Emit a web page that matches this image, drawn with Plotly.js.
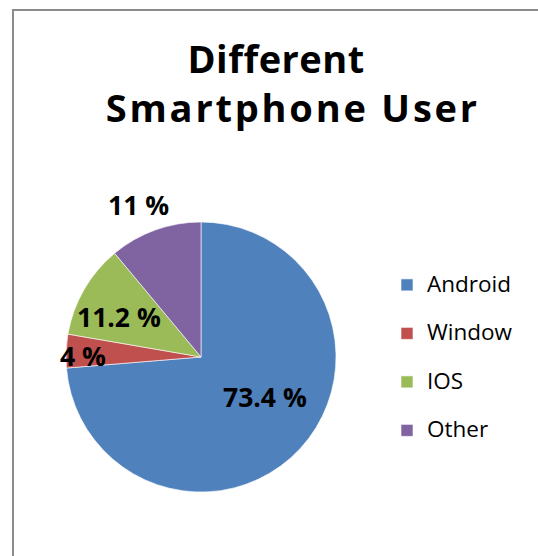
<!DOCTYPE html>
<html>
<head>
<meta charset="utf-8">
<script src="https://cdn.plot.ly/plotly-3.0.1.min.js"></script>
<style>
  html, body { margin: 0; padding: 0; background: #ffffff; }
  #chart { position: absolute; left: 0; top: 0; width: 538px; height: 556px; }
  #frame { position: absolute; left: 12px; top: 9px; width: 540px; height: 560px;
           border-left: 2px solid #8c8c8c; border-top: 2px solid #8c8c8c;
           pointer-events: none; box-sizing: border-box; }
</style>
</head>
<body>
<div id="chart"></div>
<div id="frame"></div>
<script>
// ---- data ----
const categories = ['Android', 'Window', 'IOS', 'Other'];
const shares = [73.4, 4, 11.2, 11];
const sliceColors = ['#4F81BD', '#C0504D', '#9BBB59', '#8064A2'];
const titleLines = ['Different', 'Smartphone User'];

// ---- layout helpers ----
const W = 538, H = 556;
const px = x => x / W;
const py = y => 1 - y / H;
const FONT = '"Open Sans", Lato, sans-serif';

// pie placement (centre 201,357 ; radius 135)
const cx = 201, cy = 357, r = 135;

// label anchor points (pixel), one per category
const labelPos = [[265, 397], [83, 356], [118.5, 317], [138.5, 205]];

const legendLabels = categories.map(c =>
  '<span style="font-size:22.5px">' + c + '</span><br>\u00a0');

const titleText =
  '<span style="letter-spacing:0.5px">' + titleLines[0] + '\u00a0\u00a0</span><br>' +
  '<span style="letter-spacing:2.8px">\u00a0' + titleLines[1] + '</span>';

const trace = {
  type: 'pie',
  labels: legendLabels,
  values: shares,
  sort: false,
  direction: 'clockwise',
  rotation: 0,
  textinfo: 'none',
  hoverinfo: 'skip',
  marker: { colors: sliceColors, line: { color: '#ffffff', width: 0.6 } },
  domain: { x: [px(cx - r), px(cx + r)], y: [py(cy + r), py(cy - r)] }
};

const annotations = shares.map((v, i) => ({
  xref: 'paper', yref: 'paper',
  x: px(labelPos[i][0]), y: py(labelPos[i][1]),
  xanchor: 'center', yanchor: 'middle',
  text: v + ' %',
  showarrow: false,
  font: { family: FONT, size: 26.5, color: '#000000', weight: 'bold' }
}));

const layout = {
  width: W, height: H,
  margin: { l: 0, r: 0, t: 0, b: 0 },
  paper_bgcolor: '#ffffff',
  plot_bgcolor: '#ffffff',
  title: {
    text: titleText,
    font: { family: FONT, size: 38, color: '#000000', weight: 'bold' },
    xref: 'paper', yref: 'paper',
    x: px(286.5), xanchor: 'center',
    y: py(72.5), yanchor: 'top'
  },
  showlegend: true,
  legend: {
    x: px(387), xanchor: 'left',
    y: py(267), yanchor: 'top',
    valign: 'top',
    font: { family: FONT, size: 17.5, color: '#000000' },
    bgcolor: 'rgba(0,0,0,0)',
    borderwidth: 0
  },
  annotations: annotations
};

Plotly.newPlot('chart', [trace], layout, { displayModeBar: false, staticPlot: true });
</script>
</body>
</html>
